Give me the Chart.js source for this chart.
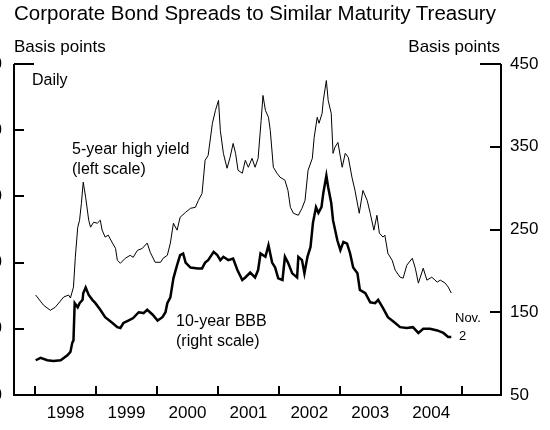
<!DOCTYPE html>
<html><head><meta charset="utf-8">
<script src="https://cdn.jsdelivr.net/npm/chart.js@4.4.0/dist/chart.umd.min.js"></script>
<style>
html,body{margin:0;padding:0;background:#fff;}
body{width:550px;height:430px;position:relative;overflow:hidden;font-family:"Liberation Sans",Arial,sans-serif;color:#000;}
#wrap{position:absolute;left:-40px;top:0;width:590px;height:430px;}
.t{position:absolute;white-space:nowrap;line-height:1;}
</style></head><body>
<div id="wrap"><canvas id="c" width="590" height="430"></canvas></div>
<div class="t" style="left:14px;top:3px;font-size:20.5px">Corporate Bond Spreads to Similar Maturity Treasury</div>
<div class="t" style="left:14px;top:38px;font-size:17px">Basis points</div>
<div class="t" style="right:50px;top:38px;font-size:17px">Basis points</div>
<div class="t" style="left:32px;top:72px;font-size:16px">Daily</div>
<div class="t" style="left:72px;top:139px;font-size:16px;line-height:20px">5-year high yield<br>(left scale)</div>
<div class="t" style="left:176px;top:311px;font-size:16px;line-height:20px">10-year BBB<br>(right scale)</div>
<div class="t" style="left:455px;top:311px;font-size:13px">Nov.</div>
<div class="t" style="left:459px;top:329px;font-size:13px">2</div>
<script>
const hyDates = [1998.01,1998.14,1998.25,1998.33,1998.47,1998.55,1998.58,1998.63,1998.66,1998.70,1998.73,1998.76,1998.79,1998.83,1998.88,1998.91,1998.96,1999.02,1999.07,1999.10,1999.15,1999.20,1999.27,1999.32,1999.35,1999.40,1999.48,1999.56,1999.61,1999.68,1999.76,1999.84,1999.89,1999.97,2000.06,2000.10,2000.17,2000.22,2000.27,2000.33,2000.38,2000.47,2000.55,2000.63,2000.68,2000.74,2000.79,2000.84,2000.91,2000.96,2001.01,2001.04,2001.09,2001.15,2001.20,2001.25,2001.29,2001.33,2001.40,2001.45,2001.50,2001.56,2001.61,2001.66,2001.71,2001.74,2001.78,2001.83,2001.86,2001.91,2001.97,2002.02,2002.10,2002.15,2002.19,2002.24,2002.32,2002.38,2002.43,2002.48,2002.55,2002.58,2002.63,2002.66,2002.71,2002.73,2002.78,2002.81,2002.86,2002.89,2002.92,2002.97,2003.04,2003.09,2003.14,2003.20,2003.25,2003.32,2003.38,2003.45,2003.50,2003.56,2003.61,2003.65,2003.71,2003.74,2003.79,2003.86,2003.91,2003.99,2004.04,2004.10,2004.19,2004.24,2004.29,2004.37,2004.43,2004.51,2004.60,2004.65,2004.73,2004.78,2004.83];
const hyValues = [302,271,256,265,296,302,293,326,416,507,528,579,643,597,528,507,522,519,528,498,477,483,459,443,407,398,413,422,416,437,443,459,431,401,401,413,422,459,519,498,537,552,564,567,588,609,709,724,821,860,890,799,730,685,718,760,730,679,670,709,688,715,688,715,830,905,860,839,799,688,670,658,649,618,567,549,543,564,588,679,715,778,839,821,851,890,950,890,851,730,748,763,688,730,718,658,618,549,618,588,549,498,543,489,477,483,428,407,377,356,353,392,413,383,338,383,347,356,341,347,338,326,308];
const bbbDates = [1998.01,1998.09,1998.20,1998.30,1998.42,1998.53,1998.58,1998.61,1998.63,1998.65,1998.70,1998.73,1998.78,1998.79,1998.83,1998.88,1998.94,1998.99,1999.07,1999.15,1999.27,1999.35,1999.40,1999.45,1999.53,1999.61,1999.70,1999.78,1999.84,1999.93,2000.01,2000.09,2000.14,2000.17,2000.22,2000.27,2000.33,2000.38,2000.43,2000.47,2000.55,2000.67,2000.74,2000.79,2000.84,2000.93,2000.99,2001.04,2001.09,2001.17,2001.25,2001.32,2001.40,2001.45,2001.53,2001.61,2001.66,2001.70,2001.78,2001.83,2001.89,2001.94,2001.99,2002.06,2002.10,2002.15,2002.22,2002.30,2002.32,2002.38,2002.42,2002.47,2002.52,2002.56,2002.61,2002.65,2002.70,2002.73,2002.78,2002.81,2002.86,2002.89,2002.96,2003.01,2003.06,2003.12,2003.17,2003.22,2003.29,2003.33,2003.42,2003.50,2003.58,2003.63,2003.71,2003.79,2003.91,2003.99,2004.10,2004.20,2004.29,2004.37,2004.48,2004.60,2004.70,2004.78,2004.83];
const bbbValues = [92,95,92,91,92,98,102,113,116,161,156,161,165,173,180,171,165,161,153,144,137,132,131,137,140,143,150,149,153,147,140,144,150,161,168,191,207,219,221,210,204,203,203,210,213,223,219,213,217,213,215,201,189,192,198,192,201,221,217,231,210,204,191,189,217,210,197,192,217,213,197,217,229,258,277,270,277,294,315,301,282,261,237,225,235,233,221,204,197,177,173,162,161,165,155,144,137,132,131,132,125,130,130,128,125,120,120];
const yearTicks = [1998,1999,2000,2001,2002,2003,2004,2005];
const yearLabels = ['1998','1999','2000','2001','2002','2003','2004',''];
const leftTicks = [0,200,400,600,800,1000];
const rightTicks = [50,150,250,350,450];

const FONT = "'Liberation Sans', Arial, sans-serif";
const frame = {
  id: 'frame',
  afterDatasetsDraw(chart) {
    const {ctx, chartArea: a, scales} = chart;
    ctx.save();
    ctx.strokeStyle = '#000';
    ctx.lineWidth = 2;
    ctx.lineCap = 'butt';
    ctx.lineJoin = 'miter';
    ctx.beginPath();
    ctx.moveTo(a.left, a.top);
    ctx.lineTo(a.left, a.bottom);
    ctx.lineTo(a.right, a.bottom);
    ctx.lineTo(a.right, a.top);
    ctx.stroke();
    ctx.beginPath();
    scales.y.ticks.forEach(t => {
      const p = Math.round(scales.y.getPixelForValue(t.value));
      const len = t.value === scales.y.max ? 20 : 10;
      ctx.moveTo(a.left, p); ctx.lineTo(a.left + len, p);
    });
    scales.y2.ticks.forEach(t => {
      const p = Math.round(scales.y2.getPixelForValue(t.value));
      const len = t.value === scales.y2.max ? 21 : 11;
      ctx.moveTo(a.right, p); ctx.lineTo(a.right - len, p);
    });
    scales.x.ticks.forEach(t => {
      const p = Math.round(scales.x.getPixelForValue(t.value));
      ctx.moveTo(p, a.bottom); ctx.lineTo(p, a.bottom - 9);
    });
    ctx.stroke();
    ctx.restore();
  }
};

new Chart(document.getElementById('c'), {
  type: 'line',
  data: {
    datasets: [
      { label: '5-year high yield', data: hyDates.map((d, i) => ({x: d, y: hyValues[i]})), yAxisID: 'y', borderColor: '#000', borderWidth: 1, pointRadius: 0, tension: 0, fill: false },
      { label: '10-year BBB', data: bbbDates.map((d, i) => ({x: d, y: bbbValues[i]})), yAxisID: 'y2', borderColor: '#000', borderWidth: 2.5, pointRadius: 0, tension: 0, fill: false }
    ]
  },
  options: {
    responsive: false, animation: false, devicePixelRatio: 1,
    layout: { padding: { top: 64, left: 0, right: 0, bottom: 0 } },
    plugins: { legend: { display: false }, tooltip: { enabled: false } },
    scales: {
      x: {
        type: 'linear', min: 1997.654, max: 2005.646,
        afterBuildTicks: s => { s.ticks = yearTicks.map(v => ({value: v})); },
        afterFit: s => { s.height = 35; },
        grid: { display: false, drawTicks: false }, border: { display: false },
        ticks: { autoSkip: false, maxRotation: 0, padding: 8, labelOffset: 30.5, color: '#000', font: { family: FONT, size: 17 }, callback: (v, i) => yearLabels[i] }
      },
      y: {
        type: 'linear', position: 'left', min: 0, max: 1000,
        afterBuildTicks: s => { s.ticks = leftTicks.map(v => ({value: v})); },
        afterFit: s => { s.width = 54; },
        grid: { display: false, drawTicks: false }, border: { display: false },
        ticks: { padding: 12, color: '#000', font: { family: FONT, size: 17 } }
      },
      y2: {
        type: 'linear', position: 'right', min: 50, max: 450,
        afterBuildTicks: s => { s.ticks = rightTicks.map(v => ({value: v})); },
        afterFit: s => { s.width = 49; },
        grid: { display: false, drawTicks: false }, border: { display: false },
        ticks: { padding: 9, color: '#000', font: { family: FONT, size: 17 } }
      }
    }
  },
  plugins: [frame]
});
</script>
</body></html>
